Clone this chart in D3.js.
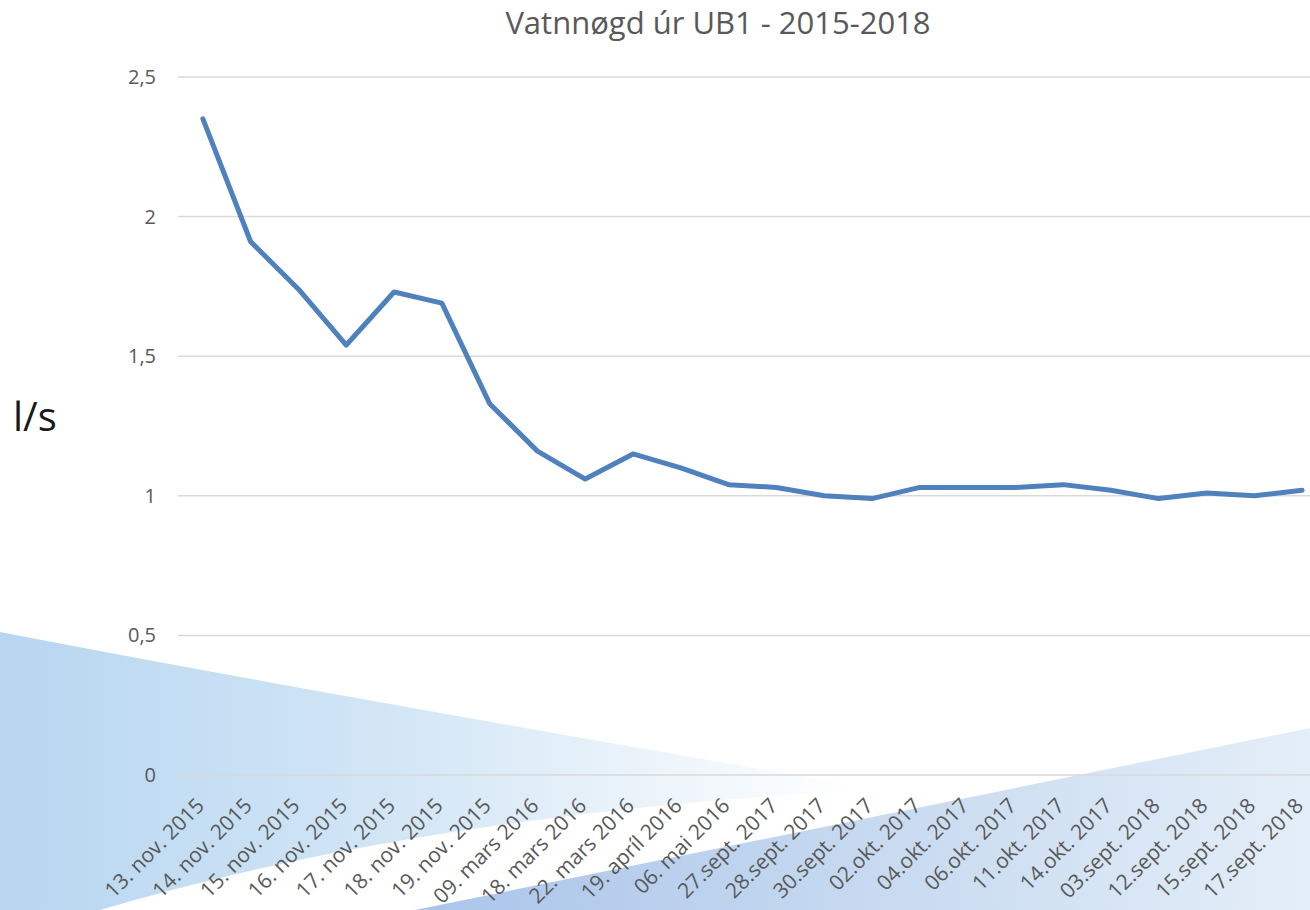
<!DOCTYPE html>
<html lang="fo">
<head>
    <meta charset="UTF-8">
    <title>Vatnnøgd úr UB1</title>
    <script src="https://d3js.org/d3.v7.min.js"></script>
    <style>
        body {
            margin: 0;
            background: #ffffff;
            font-family: "Open Sans", sans-serif;
        }
        svg { display: block; }
    </style>
</head>
<body>
    <div id="chart"></div>

    <script>
        // data
        const dates = [
            "13. nov. 2015", "14. nov. 2015", "15. nov. 2015", "16. nov. 2015",
            "17. nov. 2015", "18. nov. 2015", "19. nov. 2015", "09. mars 2016",
            "18. mars 2016", "22. mars 2016", "19. apríl 2016", "06. mai 2016",
            "27.sept. 2017", "28.sept. 2017", "30.sept. 2017", "02.okt. 2017",
            "04.okt. 2017", "06.okt. 2017", "11.okt. 2017", "14.okt. 2017",
            "03.sept. 2018", "12.sept. 2018", "15.sept. 2018", "17.sept. 2018"
        ];
        const flow = [
            2.35, 1.91, 1.74, 1.54, 1.73, 1.69, 1.33, 1.16,
            1.06, 1.15, 1.10, 1.04, 1.03, 1.00, 0.99, 1.03,
            1.03, 1.03, 1.04, 1.02, 0.99, 1.01, 1.00, 1.02
        ];
        const yTicks = [0, 0.5, 1, 1.5, 2, 2.5];

        const width = 1310;
        const height = 910;
        const font = "'Open Sans', sans-serif";

        const svg = d3.select("#chart")
            .append("svg")
            .attr("width", width)
            .attr("height", height);

        // bakgrunnur (blá form eins og á glæruni)
        const defs = svg.append("defs");

        const gradA = defs.append("linearGradient")
            .attr("id", "gradA")
            .attr("x1", "0").attr("y1", "0")
            .attr("x2", "1").attr("y2", "0");
        gradA.append("stop").attr("offset", "0%").attr("stop-color", "#b7d6f1");
        gradA.append("stop").attr("offset", "45%").attr("stop-color", "#d2e6f6");
        gradA.append("stop").attr("offset", "85%").attr("stop-color", "#f3f8fc");
        gradA.append("stop").attr("offset", "100%").attr("stop-color", "#ffffff");

        const gradB = defs.append("linearGradient")
            .attr("id", "gradB")
            .attr("x1", "0").attr("y1", "0")
            .attr("x2", "1").attr("y2", "0");
        gradB.append("stop").attr("offset", "0%").attr("stop-color", "#aac4ea");
        gradB.append("stop").attr("offset", "45%").attr("stop-color", "#c3d7ef");
        gradB.append("stop").attr("offset", "100%").attr("stop-color", "#e4eef8");

        svg.append("path")
            .attr("d", "M0,632 Q300,690 860,786 L860,790 Q420,815 100,910 L0,910 Z")
            .attr("fill", "url(#gradA)");

        svg.append("path")
            .attr("d", "M415,910 L1310,728 L1310,910 Z")
            .attr("fill", "url(#gradB)");

        // skalar
        const margin = { left: 179, right: -16, top: 77, bottom: 135 };

        const x = d3.scalePoint()
            .domain(dates)
            .range([margin.left, width - margin.right])
            .padding(0.5);

        const y = d3.scaleLinear()
            .domain([0, 2.5])
            .range([height - margin.bottom, margin.top]);

        // gittarlinjur
        svg.append("g")
            .selectAll("line")
            .data(yTicks)
            .enter()
            .append("line")
            .attr("x1", margin.left - 1)
            .attr("x2", width)
            .attr("y1", d => y(d))
            .attr("y2", d => y(d))
            .attr("stroke", "#d9d9d9")
            .attr("stroke-width", 1.5);

        // y ás
        const yAxis = svg.append("g")
            .attr("transform", `translate(${margin.left - 23},0)`)
            .call(d3.axisLeft(y).tickValues(yTicks).tickSize(0).tickPadding(0)
                .tickFormat(d => String(d).replace(".", ",")));
        yAxis.select(".domain").remove();
        yAxis.selectAll("text")
            .attr("fill", "#595959")
            .attr("font-size", "20px")
            .attr("font-family", font);

        // x ás
        const xAxis = svg.append("g")
            .attr("transform", `translate(0,${y(0)})`)
            .call(d3.axisBottom(x).tickSize(0));
        xAxis.select(".domain").remove();
        xAxis.selectAll("text")
            .attr("fill", "#595959")
            .attr("font-size", "21px")
            .attr("font-family", font)
            .attr("text-anchor", "end")
            .attr("y", 0)
            .attr("dy", 0)
            .attr("transform", "translate(2,32) rotate(-45)");

        // linja
        const line = d3.line()
            .x((d, i) => x(dates[i]))
            .y(d => y(d));

        svg.append("path")
            .datum(flow)
            .attr("d", line)
            .attr("fill", "none")
            .attr("stroke", "#4f81bd")
            .attr("stroke-width", 5)
            .attr("stroke-linejoin", "round")
            .attr("stroke-linecap", "round");

        // heiti
        svg.append("text")
            .attr("x", 718)
            .attr("y", 34)
            .attr("text-anchor", "middle")
            .attr("fill", "#595959")
            .attr("font-size", "31px")
            .attr("font-family", font)
            .text("Vatnnøgd úr UB1 - 2015-2018");

        svg.append("text")
            .attr("x", 13)
            .attr("y", 431)
            .attr("fill", "#1a1a1a")
            .attr("font-size", "40px")
            .attr("font-family", font)
            .text("l/s");
    </script>
</body>
</html>
